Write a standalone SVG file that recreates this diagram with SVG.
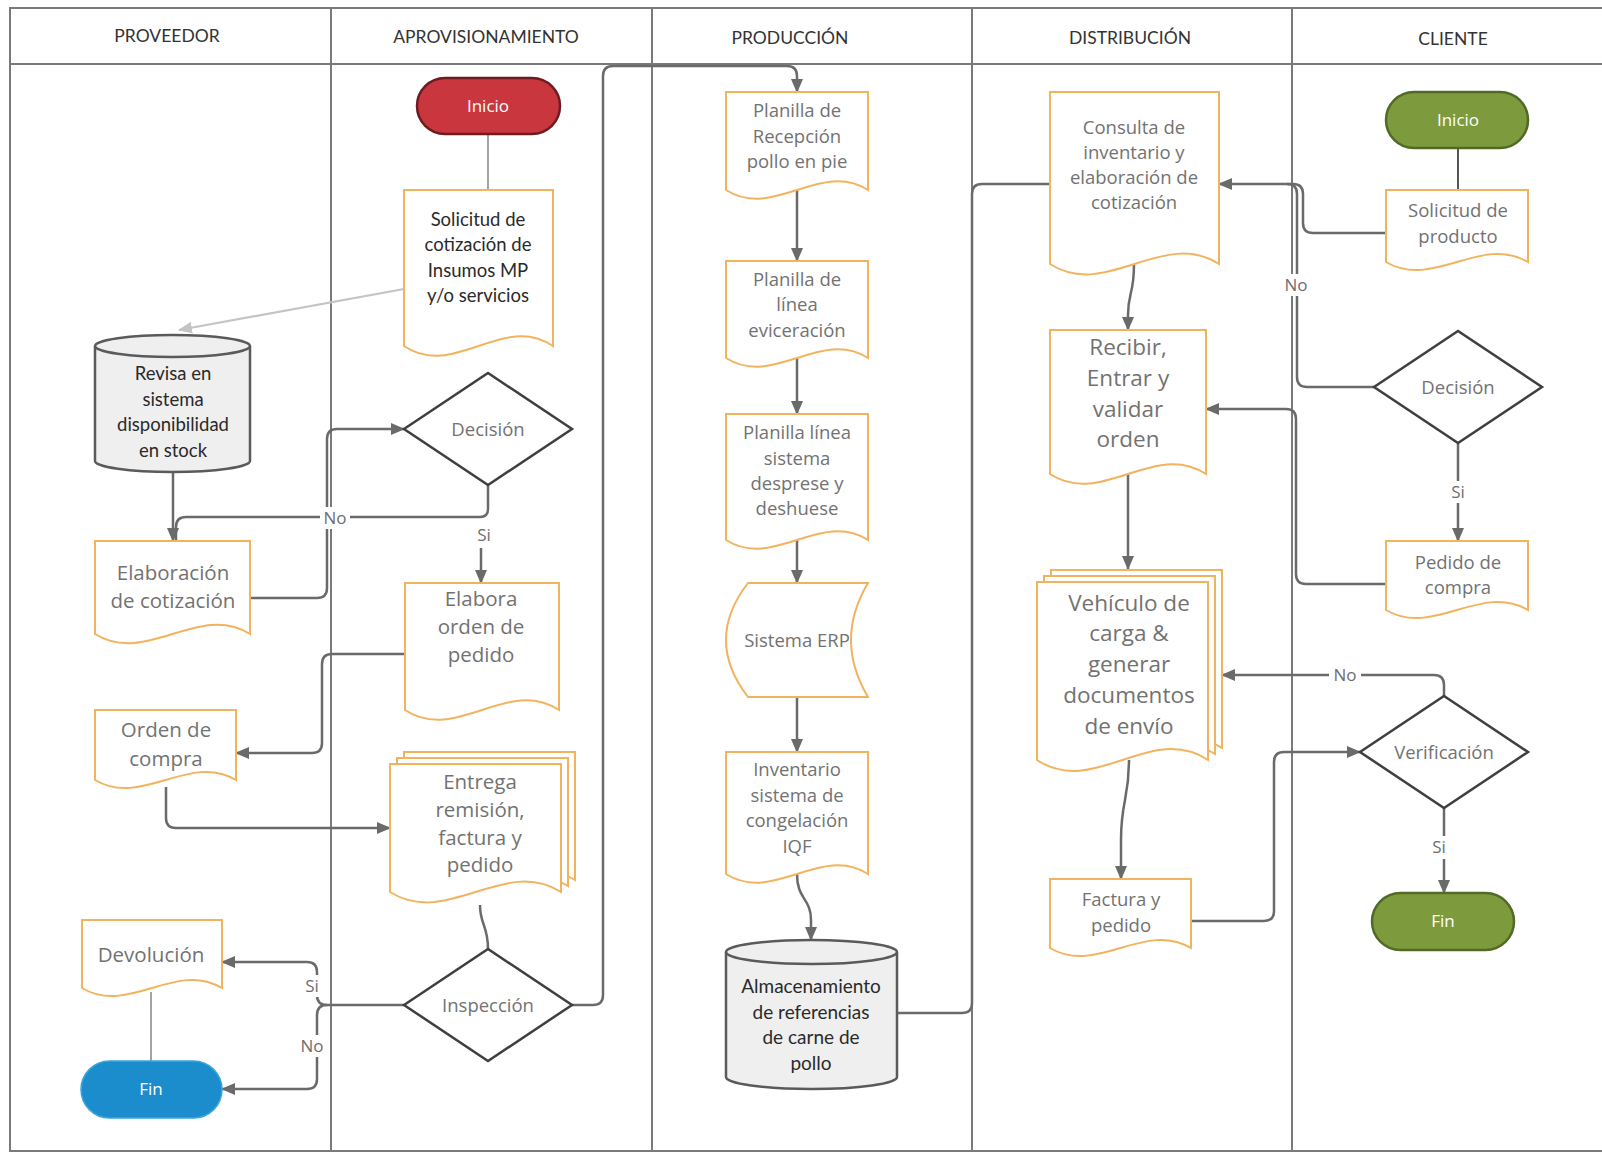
<svg xmlns="http://www.w3.org/2000/svg" width="1602" height="1154" viewBox="0 0 1602 1154">
  <defs>
    <marker id="arrow" viewBox="0 0 14 12" refX="13" refY="6" markerWidth="14" markerHeight="12" markerUnits="userSpaceOnUse" orient="auto">
      <path d="M0 0 L14 6 L0 12 Z" fill="#6a6a6a"/>
    </marker>
    <marker id="arrow-light" viewBox="0 0 14 12" refX="13" refY="6" markerWidth="14" markerHeight="12" markerUnits="userSpaceOnUse" orient="auto">
      <path d="M0 0 L14 6 L0 12 Z" fill="#c4c4c4"/>
    </marker>
    <style>
      .lane { stroke: #7a7a7a; stroke-width: 2; fill: none; }
      .hdr { font-family: Lato, "Liberation Sans", sans-serif; font-size: 17.5px; fill: #333; text-anchor: middle; }
      .doc { fill: #fff; stroke: #f2b35e; stroke-width: 2; }
      .dia { fill: #fff; stroke: #3f3f3f; stroke-width: 2.5; }
      .cyl { fill: #efefef; stroke: #5a5a5a; stroke-width: 2.5; }
      .cylc { fill: none; stroke: #5a5a5a; stroke-width: 2.5; }
      .t { font-family: "Open Sans", "Noto Sans", sans-serif; fill: #727272; text-anchor: middle; font-size: 18.5px; }
      .tb { font-size: 20.5px; }
      .tx { font-size: 22.5px; }
      .tc { font-family: Lato, "Liberation Sans", sans-serif; fill: #2a2a2a; text-anchor: middle; font-size: 18.5px; }
      .tw { font-family: "Open Sans", "Noto Sans", sans-serif; fill: #fff; text-anchor: middle; font-size: 17px; }
      .con { fill: none; stroke: #6a6a6a; stroke-width: 2.5; }
      .thin { fill: none; stroke: #9a9a9a; stroke-width: 1.8; }
      .lbl { font-family: "Open Sans", "Noto Sans", sans-serif; fill: #6e6e6e; text-anchor: middle; font-size: 17px; }
      .lblbg { fill: #fff; }
    </style>
  </defs>

  <rect width="1602" height="1154" fill="#fff"/>

  <!-- swimlane frame -->
  <g id="lanes">
    <path class="lane" d="M1610 8 H10 V1151 H1610"/>
    <path class="lane" d="M10 64 H1610"/>
    <path class="lane" d="M331 8 V1151 M652 8 V1151 M972 8 V1151 M1292 8 V1151"/>
    <text class="hdr" x="167" y="42">PROVEEDOR</text>
    <text class="hdr" x="486" y="43">APROVISIONAMIENTO</text>
    <text class="hdr" x="790" y="44">PRODUCCIÓN</text>
    <text class="hdr" x="1130" y="44">DISTRIBUCIÓN</text>
    <text class="hdr" x="1453" y="45">CLIENTE</text>
  </g>

  <!-- connectors -->
  <g id="connectors">
    <path class="thin" d="M488 134 V190"/>
    <path fill="none" stroke="#c4c4c4" stroke-width="2.2" d="M404 289 L179 330" marker-end="url(#arrow-light)"/>
    <path class="con" d="M173 472 V541" marker-end="url(#arrow)"/>
    <path class="con" d="M488 485 V509 Q488 517 480 517 H186 Q176 517 176 527 V541"/>
    <path class="con" d="M481 548 V583" marker-end="url(#arrow)"/>
    <path class="con" d="M250 598 H317 Q327 598 327 588 V439 Q327 429 337 429 H404" marker-end="url(#arrow)"/>
    <path class="con" d="M405 654 H332 Q322 654 322 664 V743 Q322 753 312 753 H236" marker-end="url(#arrow)"/>
    <path class="con" d="M166 787 V818 Q166 828 176 828 H390" marker-end="url(#arrow)"/>
    <path class="con" d="M480 905 C480 925 488 925 488 949"/>
    <path class="con" d="M404 1005 H327 Q317 1005 317 995 V972 Q317 962 307 962 H222" marker-end="url(#arrow)"/>
    <path class="con" d="M327 1005 Q317 1005 317 1015 V1079 Q317 1089 307 1089 H222" marker-end="url(#arrow)"/>
    <path class="con" d="M572 1005 H593 Q603 1005 603 995 V76 Q603 66 613 66 H787 Q797 66 797 76 V92" marker-end="url(#arrow)"/>
    <path class="con" d="M797 190 V261" marker-end="url(#arrow)"/>
    <path class="con" d="M797 358 V414" marker-end="url(#arrow)"/>
    <path class="con" d="M797 540 V583" marker-end="url(#arrow)"/>
    <path class="con" d="M797 697 V752" marker-end="url(#arrow)"/>
    <path class="con" d="M797 874 C797 900 811 898 811 920 V940" marker-end="url(#arrow)"/>
    <path class="con" d="M897 1013 H962 Q972 1013 972 1003 V194 Q972 184 982 184 H1050"/>
    <path class="con" d="M1386 233 H1313 Q1303 233 1303 223 V194 Q1303 184 1293 184 H1219" marker-end="url(#arrow)"/>
    <path class="con" d="M1374 387 H1307 Q1297 387 1297 377 V194 Q1297 184 1287 184"/>
    <path class="con" d="M1386 584 H1306 Q1296 584 1296 574 V419 Q1296 409 1286 409 H1206" marker-end="url(#arrow)"/>
    <path class="con" d="M1444 696 V685 Q1444 675 1434 675 H1222" marker-end="url(#arrow)"/>
    <path class="con" d="M1191 921 H1264 Q1274 921 1274 911 V762 Q1274 752 1284 752 H1360" marker-end="url(#arrow)"/>
    <path class="con" d="M1444 808 V893" marker-end="url(#arrow)"/>
    <path class="con" d="M1458 443 V541" marker-end="url(#arrow)"/>
    <path class="con" d="M1134 264 C1134 295 1128 292 1128 315 V330" marker-end="url(#arrow)"/>
    <path class="con" d="M1128 474 V569" marker-end="url(#arrow)"/>
    <path class="con" d="M1129 760 C1129 800 1121 800 1121 840 V879" marker-end="url(#arrow)"/>
    <path fill="none" stroke="#555" stroke-width="2" d="M1458 148 V190"/>
    <path class="thin" d="M151 992 V1061"/>

    <!-- branch labels -->
    <rect class="lblbg" x="320" y="507" width="30" height="22"/>
    <text class="lbl" x="335" y="524">No</text>
    <rect class="lblbg" x="472" y="524" width="24" height="22"/>
    <text class="lbl" x="484" y="541">Si</text>
    <rect class="lblbg" x="301" y="975" width="24" height="22"/>
    <text class="lbl" x="312" y="992">Si</text>
    <rect class="lblbg" x="297" y="1035" width="30" height="22"/>
    <text class="lbl" x="312" y="1052">No</text>
    <rect class="lblbg" x="1281" y="274" width="30" height="22"/>
    <text class="lbl" x="1296" y="291">No</text>
    <rect class="lblbg" x="1446" y="481" width="24" height="22"/>
    <text class="lbl" x="1458" y="498">Si</text>
    <rect class="lblbg" x="1329" y="664" width="32" height="22"/>
    <text class="lbl" x="1345" y="681">No</text>
    <rect class="lblbg" x="1427" y="836" width="24" height="23"/>
    <text class="lbl" x="1439" y="853">Si</text>
  </g>

  <!-- APROVISIONAMIENTO -->
  <g id="inicio-aprov">
    <rect x="417" y="78" width="143" height="56" rx="28" fill="#c9363e" stroke="#6e1c21" stroke-width="2.5"/>
    <text class="tw" x="488" y="112">Inicio</text>
  </g>
  <g id="solicitud-cotizacion">
    <path class="doc" d="M404 190 H553 V346 C503.3 312 453.7 380 404 346 Z"/>
    <text class="tc"><tspan x="478" y="226">Solicitud de</tspan><tspan x="478" y="251">cotización de</tspan><tspan x="478" y="277">Insumos MP</tspan><tspan x="478" y="302">y/o servicios</tspan></text>
  </g>
  <g id="decision-aprov">
    <polygon class="dia" points="404,429 488,373 572,429 488,485"/>
    <text class="t" x="488" y="436">Decisión</text>
  </g>
  <g id="elabora-orden">
    <path class="doc" d="M405 583 H559 V710 C507.7 676 456.3 744 405 710 Z"/>
    <text class="t tb"><tspan x="481" y="606">Elabora</tspan><tspan x="481" y="634">orden de</tspan><tspan x="481" y="662">pedido</tspan></text>
  </g>
  <g id="entrega-remision">
    <path class="doc" d="M404 752 H575 V880 C518 844 461 916 404 880 Z"/>
    <path class="doc" d="M397 758 H568 V886 C511 850 454 922 397 886 Z"/>
    <path class="doc" d="M390 764 H561 V892 C504 856 447 928 390 892 Z"/>
    <text class="t tb"><tspan x="480" y="789">Entrega</tspan><tspan x="480" y="817">remisión,</tspan><tspan x="480" y="845">factura y</tspan><tspan x="480" y="872">pedido</tspan></text>
  </g>
  <g id="inspeccion">
    <polygon class="dia" points="404,1005 488,949 572,1005 488,1061"/>
    <text class="t" x="488" y="1012">Inspección</text>
  </g>

  <!-- PROVEEDOR -->
  <g id="revisa-stock">
    <path class="cyl" d="M95 346 A77.5 11 0 0 1 250 346 V461 A77.5 11 0 0 1 95 461 Z"/>
    <path class="cylc" d="M95 346 A77.5 11 0 0 0 250 346"/>
    <text class="tc"><tspan x="173" y="380">Revisa en</tspan><tspan x="173" y="406">sistema</tspan><tspan x="173" y="431">disponibilidad</tspan><tspan x="173" y="457">en stock</tspan></text>
  </g>
  <g id="elaboracion-cotizacion">
    <path class="doc" d="M95 541 H250 V634 C198.3 602 146.7 666 95 634 Z"/>
    <text class="t tb"><tspan x="173" y="580">Elaboración</tspan><tspan x="173" y="608">de cotización</tspan></text>
  </g>
  <g id="orden-compra">
    <path class="doc" d="M95 710 H236 V780 C189 752 142 808 95 780 Z"/>
    <text class="t tb"><tspan x="166" y="737">Orden de</tspan><tspan x="166" y="766">compra</tspan></text>
  </g>
  <g id="devolucion">
    <path class="doc" d="M82 920 H222 V988 C175.3 960 128.7 1016 82 988 Z"/>
    <text class="t tb" x="151" y="962">Devolución</text>
  </g>
  <g id="fin-proveedor">
    <rect x="81" y="1061" width="141" height="57" rx="28.5" fill="#1b8dcc" stroke="#3aa6e0" stroke-width="1.5"/>
    <text class="tw" x="151" y="1095">Fin</text>
  </g>

  <!-- PRODUCCIÓN -->
  <g id="planilla-recepcion">
    <path class="doc" d="M726 92 H868 V190 C820.7 160 773.3 220 726 190 Z"/>
    <text class="t"><tspan x="797" y="117">Planilla de</tspan><tspan x="797" y="143">Recepción</tspan><tspan x="797" y="168">pollo en pie</tspan></text>
  </g>
  <g id="planilla-eviceracion">
    <path class="doc" d="M726 261 H868 V358 C820.7 328 773.3 388 726 358 Z"/>
    <text class="t"><tspan x="797" y="286">Planilla de</tspan><tspan x="797" y="311">línea</tspan><tspan x="797" y="337">eviceración</tspan></text>
  </g>
  <g id="planilla-desprese">
    <path class="doc" d="M726 414 H868 V540 C820.7 510 773.3 570 726 540 Z"/>
    <text class="t"><tspan x="797" y="439">Planilla línea</tspan><tspan x="797" y="465">sistema</tspan><tspan x="797" y="490">desprese y</tspan><tspan x="797" y="515">deshuese</tspan></text>
  </g>
  <g id="sistema-erp">
    <path class="doc" d="M748 583 H868 Q834 640 868 697 H748 Q704 640 748 583 Z"/>
    <text class="t" x="797" y="647">Sistema ERP</text>
  </g>
  <g id="inventario-iqf">
    <path class="doc" d="M726 752 H868 V874 C820.7 844 773.3 904 726 874 Z"/>
    <text class="t"><tspan x="797" y="776">Inventario</tspan><tspan x="797" y="802">sistema de</tspan><tspan x="797" y="827">congelación</tspan><tspan x="797" y="853">IQF</tspan></text>
  </g>
  <g id="almacenamiento">
    <path class="cyl" d="M726 952 A85.5 12 0 0 1 897 952 V1077 A85.5 12 0 0 1 726 1077 Z"/>
    <path class="cylc" d="M726 952 A85.5 12 0 0 0 897 952"/>
    <text class="tc" style="font-size:19px"><tspan x="811" y="993">Almacenamiento</tspan><tspan x="811" y="1019">de referencias</tspan><tspan x="811" y="1044">de carne de</tspan><tspan x="811" y="1070">pollo</tspan></text>
  </g>

  <!-- DISTRIBUCIÓN -->
  <g id="consulta-inventario">
    <path class="doc" d="M1050 92 H1219 V264 C1162.7 228 1106.3 300 1050 264 Z"/>
    <text class="t"><tspan x="1134" y="134">Consulta de</tspan><tspan x="1134" y="159">inventario y</tspan><tspan x="1134" y="184">elaboración de</tspan><tspan x="1134" y="209">cotización</tspan></text>
  </g>
  <g id="recibir-orden">
    <path class="doc" d="M1050 330 H1206 V474 C1154 440 1102 508 1050 474 Z"/>
    <text class="t tx"><tspan x="1128" y="355">Recibir,</tspan><tspan x="1128" y="386">Entrar y</tspan><tspan x="1128" y="417">validar</tspan><tspan x="1128" y="447">orden</tspan></text>
  </g>
  <g id="vehiculo-carga">
    <path class="doc" d="M1051 570 H1222 V748 C1165 710 1108 786 1051 748 Z"/>
    <path class="doc" d="M1044 576 H1215 V754 C1158 716 1101 792 1044 754 Z"/>
    <path class="doc" d="M1037 582 H1208 V760 C1151 722 1094 798 1037 760 Z"/>
    <text class="t tx"><tspan x="1129" y="611">Vehículo de</tspan><tspan x="1129" y="641">carga &amp;</tspan><tspan x="1129" y="672">generar</tspan><tspan x="1129" y="703">documentos</tspan><tspan x="1129" y="734">de envío</tspan></text>
  </g>
  <g id="factura-pedido">
    <path class="doc" d="M1050 879 H1191 V948 C1144 920 1097 976 1050 948 Z"/>
    <text class="t"><tspan x="1121" y="906">Factura y</tspan><tspan x="1121" y="932">pedido</tspan></text>
  </g>

  <!-- CLIENTE -->
  <g id="inicio-cliente">
    <rect x="1386" y="92" width="142" height="56" rx="28" fill="#7d9b3c" stroke="#536a26" stroke-width="2.5"/>
    <text class="tw" x="1458" y="126">Inicio</text>
  </g>
  <g id="solicitud-producto">
    <path class="doc" d="M1386 190 H1528 V262 C1480.7 234 1433.3 290 1386 262 Z"/>
    <text class="t"><tspan x="1458" y="217">Solicitud de</tspan><tspan x="1458" y="243">producto</tspan></text>
  </g>
  <g id="decision-cliente">
    <polygon class="dia" points="1374,387 1458,331 1542,387 1458,443"/>
    <text class="t" x="1458" y="394">Decisión</text>
  </g>
  <g id="pedido-compra">
    <path class="doc" d="M1386 541 H1528 V610 C1480.7 582 1433.3 638 1386 610 Z"/>
    <text class="t"><tspan x="1458" y="569">Pedido de</tspan><tspan x="1458" y="594">compra</tspan></text>
  </g>
  <g id="verificacion">
    <polygon class="dia" points="1360,752 1444,696 1528,752 1444,808"/>
    <text class="t" x="1444" y="759">Verificación</text>
  </g>
  <g id="fin-cliente">
    <rect x="1372" y="893" width="142" height="57" rx="28.5" fill="#7d9b3c" stroke="#536a26" stroke-width="2.5"/>
    <text class="tw" x="1443" y="927">Fin</text>
  </g>
</svg>
